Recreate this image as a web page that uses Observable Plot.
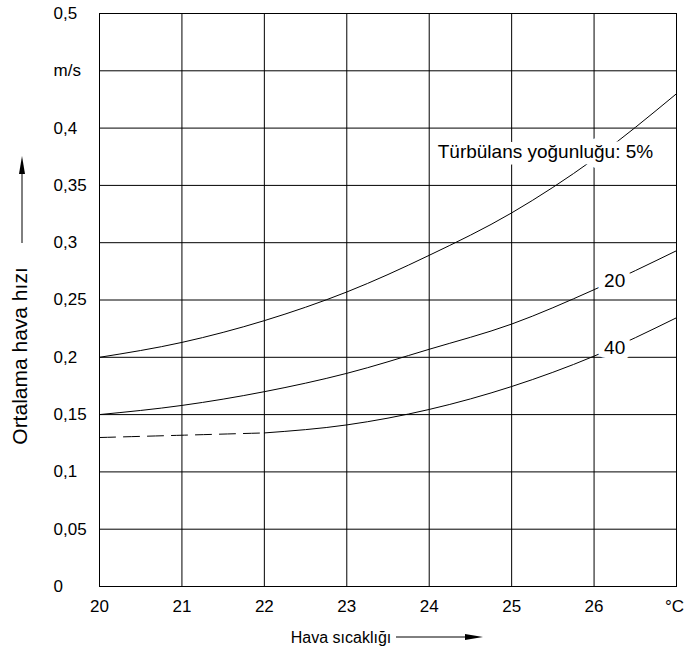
<!DOCTYPE html>
<html>
<head>
<meta charset="utf-8">
<script src="https://cdn.jsdelivr.net/npm/d3@7"></script>
<script src="https://cdn.jsdelivr.net/npm/@observablehq/plot@0.6"></script>
<style>
  html, body { margin: 0; padding: 0; background: #fff; }
  #chart { width: 684px; height: 653px; }
  svg { font-family: "Liberation Sans", Arial, sans-serif; }
</style>
</head>
<body>
<div id="chart"></div>
<script>
// ---- data ----
const temps = [20, 21, 22, 23, 24, 25, 26, 27];
const xTickLabels = ["20", "21", "22", "23", "24", "25", "26", "°C"];
const yTicks = [0, 0.05, 0.1, 0.15, 0.2, 0.25, 0.3, 0.35, 0.4, 0.45, 0.5];
const yTickLabels = ["0", "0,05", "0,1", "0,15", "0,2", "0,25", "0,3", "0,35", "0,4", "m/s", "0,5"];

const speed5 = [0.200, 0.213, 0.232, 0.257, 0.289, 0.326, 0.373, 0.430];
const speed20 = [0.150, 0.158, 0.170, 0.186, 0.207, 0.229, 0.259, 0.293];
const speed40 = [0.130, 0.132, 0.134, 0.141, 0.1545, 0.1745, 0.201, 0.2345];
const dashedUntil = 22; // 40% curve is dashed below this temperature

const curveLabels = ["Türbülans yoğunluğu: 5%", "20", "40"];
const curveLabelX = [25.41, 26.25, 26.25];
const curveLabelY = [0.3796, 0.267, 0.2085];

const xTitle = "Hava sıcaklığı";
const yTitle = "Ortalama hava hızı";

// ---- tables ----
const rows = (vals) => temps.map((t, i) => ({t, v: vals[i]}));
const line5 = rows(speed5);
const line20 = rows(speed20);
const line40 = rows(speed40);
const line40dash = line40.filter(d => d.t <= dashedUntil);
const line40solid = line40.filter(d => d.t >= dashedUntil);
const labels = curveLabels.map((s, i) => ({s, x: curveLabelX[i], y: curveLabelY[i]}));
const lastT = temps[temps.length - 1];

const W = 684, H = 653;
const mL = 99, mR = 8, mT = 13, mB = 67;
const fs = 17;
const xfmt = (d) => xTickLabels[temps.indexOf(d)];

const plot = Plot.plot({
  width: W, height: H,
  marginLeft: mL, marginRight: mR, marginTop: mT, marginBottom: mB,
  style: {fontFamily: '"Liberation Sans", Arial, sans-serif', fontSize: fs + "px", color: "#000", background: "#fff"},
  x: {domain: [20, 27], type: "linear"},
  y: {domain: [0, 0.5]},
  marks: [
    Plot.gridX(temps, {stroke: "#000", strokeOpacity: 1, strokeWidth: 1}),
    Plot.gridY(yTicks, {stroke: "#000", strokeOpacity: 1, strokeWidth: 1}),
    Plot.frame({stroke: "#000", strokeWidth: 1}),
    Plot.axisX(temps.filter(t => t !== lastT), {tickSize: 0, tickPadding: 13, fontSize: fs,
      tickFormat: xfmt, label: null}),
    Plot.axisX([lastT], {tickSize: 0, tickPadding: 13, fontSize: fs, dx: -2,
      tickFormat: xfmt, label: null}),
    Plot.axisY(yTicks, {tickSize: 0, tickPadding: 0, dx: -46, textAnchor: "start", fontSize: fs,
      tickFormat: (d) => yTickLabels[yTicks.indexOf(d)], label: null}),
    Plot.line(line5, {x: "t", y: "v", curve: "monotone-x", stroke: "#000", strokeWidth: 1}),
    Plot.line(line20, {x: "t", y: "v", curve: "monotone-x", stroke: "#000", strokeWidth: 1}),
    Plot.line(line40solid, {x: "t", y: "v", curve: "monotone-x", stroke: "#000", strokeWidth: 1}),
    Plot.line(line40dash, {x: "t", y: "v", curve: "monotone-x", stroke: "#000", strokeWidth: 1, strokeDasharray: "16,8"}),
    Plot.text(labels, {x: "x", y: "y", text: "s", fill: "#000", stroke: "#fff", strokeWidth: 13,
      fontSize: 19, textAnchor: "middle", lineAnchor: "middle"}),
    Plot.text([yTitle], {frameAnchor: "left", rotate: -90, dx: -79, dy: 56, fontSize: 21,
      textAnchor: "middle", lineAnchor: "middle", fill: "#000"}),
    Plot.text([xTitle], {frameAnchor: "bottom", dx: -47, dy: 51, fontSize: 16,
      textAnchor: "middle", lineAnchor: "middle", fill: "#000"})
  ]
});

document.getElementById("chart").appendChild(plot);

// decorative direction arrows beside the axis titles
const svg = d3.select(plot);
const g = svg.append("g").attr("fill", "#000").attr("stroke", "#000");
// vertical arrow (y title)
g.append("line").attr("x1", 22).attr("x2", 22).attr("y1", 243).attr("y2", 172).attr("stroke-width", 1);
g.append("path").attr("d", "M22,156 L19,174 L25,174 Z").attr("stroke", "none");
// horizontal arrow (x title)
g.append("line").attr("x1", 396).attr("x2", 466).attr("y1", 637).attr("y2", 637).attr("stroke-width", 1);
g.append("path").attr("d", "M483,637 L465,634 L465,640 Z").attr("stroke", "none");
</script>
</body>
</html>
